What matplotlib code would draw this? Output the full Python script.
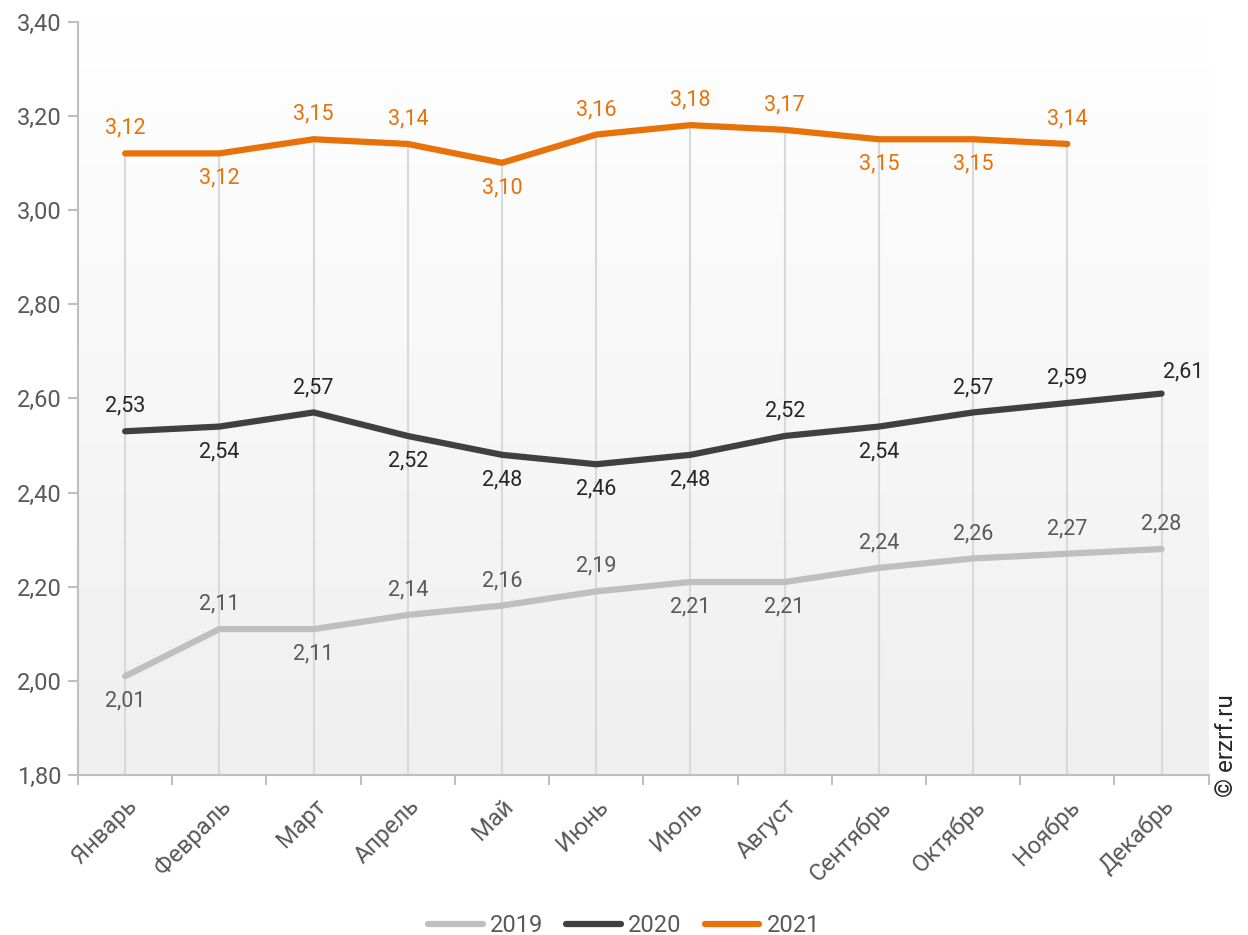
import matplotlib.pyplot as plt
import numpy as np
from matplotlib.colors import LinearSegmentedColormap

plt.rcParams['font.family'] = ['Roboto', 'DejaVu Sans']

months = ["Январь", "Февраль", "Март", "Апрель", "Май", "Июнь",
          "Июль", "Август", "Сентябрь", "Октябрь", "Ноябрь", "Декабрь"]
v2019 = [2.01, 2.11, 2.11, 2.14, 2.16, 2.19, 2.21, 2.21, 2.24, 2.26, 2.27, 2.28]
v2020 = [2.53, 2.54, 2.57, 2.52, 2.48, 2.46, 2.48, 2.52, 2.54, 2.57, 2.59, 2.61]
v2021 = [3.12, 3.12, 3.15, 3.14, 3.10, 3.16, 3.18, 3.17, 3.15, 3.15, 3.14]

# 1 = подпись сверху, -1 = снизу
pos2019 = [-1, 1, -1, 1, 1, 1, -1, -1, 1, 1, 1, 1]
pos2020 = [1, -1, 1, -1, -1, -1, -1, 1, -1, 1, 1, 1]
pos2021 = [1, -1, 1, 1, -1, 1, 1, 1, -1, -1, 1]

fig = plt.figure(figsize=(12.48, 9.35), dpi=100)
ax = fig.add_axes([0.0625, 0.171, 0.906, 0.806])

# фон с градиентом
bg = LinearSegmentedColormap.from_list('bg', ['#efefef', '#ffffff'])
grad = np.linspace(0, 1, 256).reshape(-1, 1)
ax.imshow(grad, extent=[-0.5, 11.5, 1.8, 3.4], aspect='auto', cmap=bg,
          zorder=0, origin='lower')
ax.set_xlim(-0.5, 11.5)
ax.set_ylim(1.8, 3.4)

x = np.arange(len(months))

# линии проекции от верхней серии к оси
tops = [max(v for v in (a, b, c) if v is not None) for a, b, c in
        zip(v2019, v2020, v2021 + [None] * (12 - len(v2021)))]
ax.vlines(x, 1.8, tops, color='#d9d9d9', lw=1.5, zorder=1)

series = [
    (v2019, pos2019, '#bfbfbf', '#595959', '2019'),
    (v2020, pos2020, '#404040', '#262626', '2020'),
    (v2021, pos2021, '#e8710a', '#e8710a', '2021'),
]
for vals, pos, col, tcol, name in series:
    xs = x[:len(vals)]
    ax.plot(xs, vals, color=col, lw=4.5, solid_capstyle='round', label=name, zorder=3)
    for xi, v, p in zip(xs, vals, pos):
        off = (0, 25 * p)
        if name == '2020' and xi == 11:
            off = (22, 22)
        ax.annotate(f"{v:.2f}".replace('.', ','), (xi, v), xytext=off,
                    textcoords='offset pixels',
                    ha='center', va='center', fontsize=15.5, color=tcol, zorder=4)

yt = np.arange(1.8, 3.41, 0.2)
ax.set_yticks(yt)
ax.set_yticklabels([f"{t:.2f}".replace('.', ',') for t in yt])
ax.set_xticks(x)
ax.set_xticklabels(months, rotation=45, ha='right', rotation_mode='anchor')
ax.set_xticks(np.arange(-0.5, 12, 1), minor=True)
ax.tick_params(axis='x', which='major', length=0, labelsize=17, colors='#595959', pad=14)
ax.tick_params(axis='x', which='minor', length=7, color='#bfbfbf', width=1.5)
ax.tick_params(axis='y', length=7, color='#bfbfbf', width=1.5, labelsize=17,
               labelcolor='#595959', pad=5)

for s in ['top', 'right']:
    ax.spines[s].set_visible(False)
for s in ['left', 'bottom']:
    ax.spines[s].set_color('#bfbfbf')
    ax.spines[s].set_linewidth(1.5)

fig.text(0.983, 0.148, "© erzrf.ru", rotation=90, ha='center', va='bottom',
         fontsize=17.5, color='#262626')

fig.legend(loc='lower center', ncol=3, frameon=False, fontsize=17,
           bbox_to_anchor=(0.5, -0.025), handlelength=2.3, columnspacing=1.0,
           handletextpad=0.3, labelcolor='#595959')

fig.savefig('out.png', dpi=100)
